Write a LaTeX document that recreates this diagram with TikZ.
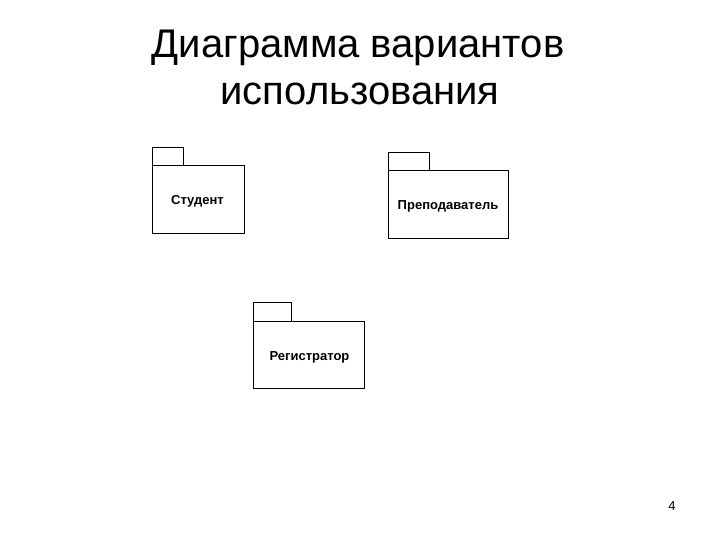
\documentclass[tikz,border=0pt]{standalone}
\usepackage{fontspec}
\setmainfont{Liberation Sans}
\begin{document}
\begin{tikzpicture}[x=1pt,y=-1pt,
  pkg/.style={draw=black,line width=1pt,fill=white},
  lbl/.style={font=\bfseries\fontsize{13}{15}\selectfont,inner sep=0pt,anchor=base},
  ttl/.style={font=\fontsize{40}{46}\selectfont,inner sep=0pt,anchor=base}]
\useasboundingbox[fill=white] (0,0) rectangle (720,540);
% title
\node[ttl] (t1) at (358,58) {Диаграмма вариантов};
\node[ttl] (t2) at (360,105) {использования};
% Student
\draw[pkg] (152,148) rectangle (183,166);
\draw[pkg] (152,166) rectangle (244,233);
\node[lbl] (s) at (197.5,205) {Студент};
% Teacher
\draw[pkg] (388,153) rectangle (429,171);
\draw[pkg] (388,171) rectangle (508,238);
\node[lbl] (p) at (448,210) {Преподаватель};
% Registrar
\draw[pkg] (253,302) rectangle (291,321);
\draw[pkg] (253,321) rectangle (364,388);
\node[lbl] (r) at (309.5,360) {Регистратор};
% page number
\node[font=\fontsize{13}{15}\selectfont,inner sep=0pt,anchor=base] (n) at (672,510) {4};
\end{tikzpicture}
\end{document}
